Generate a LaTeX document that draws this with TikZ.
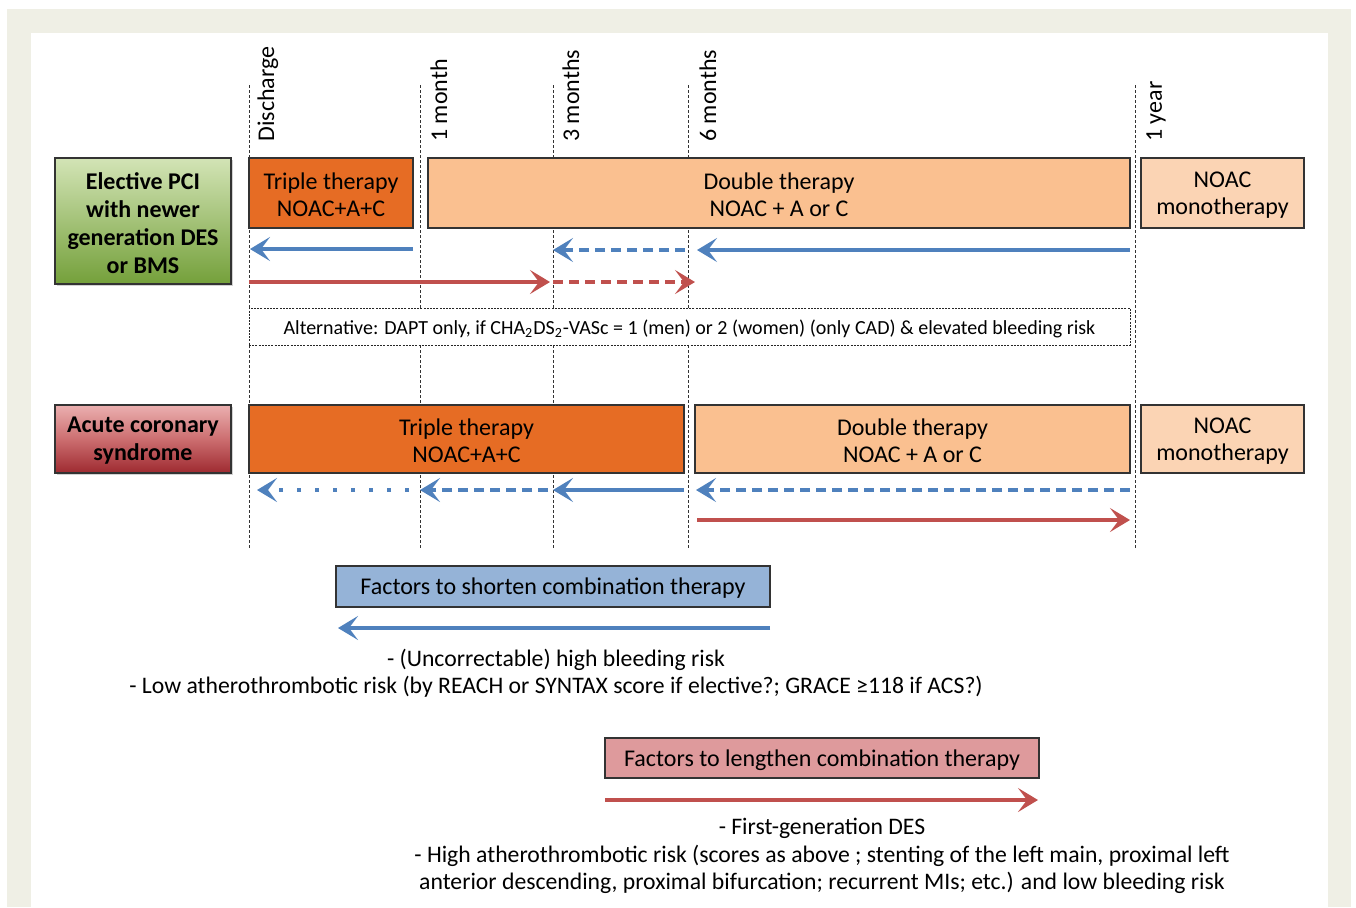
\documentclass[tikz,border=0pt]{standalone}
\usepackage{fontspec}
\setmainfont{Carlito}
\usetikzlibrary{arrows.meta,fit,shadows}
\definecolor{framec}{HTML}{EFEFE5}
\definecolor{tric}{HTML}{E66C24}
\definecolor{dblc}{HTML}{FAC090}
\definecolor{monoc}{HTML}{FBD4B4}
\definecolor{bluec}{HTML}{4F81BD}
\definecolor{redc}{HTML}{C0504D}
\definecolor{bbox}{HTML}{95B3D7}
\definecolor{rbox}{HTML}{DE9A9C}
\definecolor{edgec}{HTML}{333333}
\definecolor{gtop}{HTML}{D3E4B6}
\definecolor{gbot}{HTML}{74A03A}
\definecolor{rtop}{HTML}{EBB0B0}
\definecolor{rmid}{HTML}{CC6E70}
\definecolor{rbot}{HTML}{9E2A30}
\begin{document}
\begin{tikzpicture}[x=0.5pt,y=-0.5pt,
  every node/.style={font=\fontsize{12}{13.5}\selectfont},
  vline/.style={draw=black!80,line width=0.5pt,dash pattern=on 1.5pt off 1pt},
  tlabel/.style={rotate=90,anchor=north west,inner sep=0pt},
  boxbase/.style={draw=edgec,line width=0.6pt,inner sep=0pt},
  btext/.style={align=center,inner sep=0pt},
  ltext/.style={align=center,inner sep=0pt,font=\bfseries\fontsize{12}{14}\selectfont},
  tribox/.style={boxbase,fill=tric},
  dblbox/.style={boxbase,fill=dblc},
  monobox/.style={boxbase,fill=monoc},
  greenbox/.style={boxbase,top color=gtop,bottom color=gbot,
     drop shadow={shadow xshift=0.8pt,shadow yshift=-1.2pt,opacity=0.35}},
  redlbox/.style={boxbase,top color=rtop,bottom color=rbot,middle color=rmid,
     drop shadow={shadow xshift=0.8pt,shadow yshift=-1.2pt,opacity=0.35}},
  tip/.style={-{Stealth[length=10pt,width=12pt,inset=4.5pt]}},
  barrow/.style={tip,draw=bluec,line width=2pt},
  rarrow/.style={tip,draw=redc,line width=2pt},
  dsh/.style={dash pattern=on 5pt off 3pt},
  dts/.style={dash pattern=on 2pt off 7pt},
  txt/.style={inner sep=0pt,font=\fontsize{11.85}{14}\selectfont}
]
\useasboundingbox (0,0) rectangle (1356,907);
\fill[white] (0,0) rectangle (1356,907);
\fill[framec] (7,9) rectangle (1351,907);
\fill[white] (31,33) rectangle (1328,907);

% time lines
\foreach \n/\x in {dis/249,mA/420,mB/553,mC/688,yA/1135}{
  \coordinate (\n top) at (\x,85);
  \coordinate (\n bot) at (\x,548);
  \draw[vline] (\n top) -- (\n bot);
}
\node[tlabel] (ldis) at (257,142) {Discharge};
\node[tlabel] (lmA) at (430,142) {1 month};
\node[tlabel] (lmB) at (562,142) {3 months};
\node[tlabel] (lmC) at (699,142) {6 months};
\node[tlabel] (lyA) at (1146,142) {1 year};

% row 1
\node[greenbox,fit={(55,158)(231,284)}] (elect) {};
\node[ltext] (electt) at ([yshift=-1pt]elect.center) {Elective PCI\\with newer\\generation DES\\or BMS};
\node[tribox,fit={(249,158)(413,228)}] (tt1) {};
\node[btext] (tt1t) at ([yshift=-1pt]tt1.center) {Triple therapy\\NOAC+A+C};
\node[dblbox,fit={(428,158)(1130,228)}] (dt1) {};
\node[btext] (dt1t) at ([yshift=-1pt]dt1.center) {Double therapy\\NOAC + A or C};
\node[monobox,fit={(1141,158)(1304,228)}] (mo1) {};
\node[btext] (mo1t) at ([yshift=-1pt]mo1.center) {NOAC\\monotherapy};

\coordinate (a1s) at (413,249); \coordinate (a1e) at (250,249);
\coordinate (a2s) at (685,250); \coordinate (a2e) at (553,250);
\coordinate (a3s) at (1130,250); \coordinate (a3e) at (697,250);
\coordinate (r1s) at (249,282); \coordinate (r1e) at (550,282);
\coordinate (r2s) at (553,282); \coordinate (r2e) at (695,282);
\draw[barrow] (a1s) -- (a1e);
\draw[barrow,dsh] (a2s) -- (a2e);
\draw[barrow] (a3s) -- (a3e);
\draw[rarrow] (r1s) -- (r1e);
\draw[rarrow,dsh] (r2s) -- (r2e);

% alternative
\node[draw=black!85,line width=0.5pt,dash pattern=on 1pt off 0.6pt,fill=white,inner sep=0pt,
  fit={(249,308)(1130,345)}] (alt) {};
\node[inner sep=0pt,font=\fontsize{10}{11}\selectfont] (altt) at ([yshift=-1pt]alt.center)
  {Alternative: DAPT only, if CHA\textsubscript{2}DS\textsubscript{2}-VASc = 1 (men) or 2 (women) (only CAD) \& elevated bleeding risk};

% row 2
\node[redlbox,fit={(55,405)(231,473)}] (acs) {};
\node[ltext] (acst) at ([yshift=-1pt]acs.center) {Acute coronary\\syndrome};
\node[tribox,fit={(249,405)(684,473)}] (tt2) {};
\node[btext] (tt2t) at ([yshift=-1pt]tt2.center) {Triple therapy\\NOAC+A+C};
\node[dblbox,fit={(695,405)(1130,473)}] (dt2) {};
\node[btext] (dt2t) at ([yshift=-1pt]dt2.center) {Double therapy\\NOAC + A or C};
\node[monobox,fit={(1141,405)(1304,473)}] (mo2) {};
\node[btext] (mo2t) at ([yshift=-1pt]mo2.center) {NOAC\\monotherapy};

\coordinate (b1s) at (409,490); \coordinate (b1e) at (257,490);
\coordinate (b2s) at (548,490); \coordinate (b2e) at (420,490);
\coordinate (b3s) at (684,490); \coordinate (b3e) at (553,490);
\coordinate (b4s) at (1130,490); \coordinate (b4e) at (696,490);
\coordinate (r3s) at (697,520); \coordinate (r3e) at (1130,520);
\draw[barrow,dts] (b1s) -- (b1e);
\draw[barrow,dsh] (b2s) -- (b2e);
\draw[barrow] (b3s) -- (b3e);
\draw[barrow,dsh] (b4s) -- (b4e);
\draw[rarrow] (r3s) -- (r3e);

% factors shorten
\node[boxbase,fill=bbox,fit={(336,566)(770,607)}] (fs) {};
\node[btext] (fst) at ([yshift=-1pt]fs.center) {Factors to shorten combination therapy};
\coordinate (fss) at (770,628); \coordinate (fse) at (338,628);
\draw[barrow] (fss) -- (fse);
\node[txt] (s1) at (556,660) {- (Uncorrectable) high bleeding risk};
\node[txt] (s2) at (556,687) {- Low atherothrombotic risk (by REACH or SYNTAX score if elective?; GRACE ≥118 if ACS?)};

% factors lengthen
\node[boxbase,fill=rbox,fit={(605,738)(1039,778)}] (fl) {};
\node[btext] (flt) at ([yshift=-1pt]fl.center) {Factors to lengthen combination therapy};
\coordinate (fls) at (605,800); \coordinate (fle) at (1038,800);
\draw[rarrow] (fls) -- (fle);
\node[txt] (l1) at (822,828) {- First-generation DES};
\node[txt] (l2) at (822,856) {- High atherothrombotic risk (scores as above ; stenting of the left main, proximal left};
\node[txt] (l3) at (822,883) {anterior descending, proximal bifurcation; recurrent MIs; etc.) and low bleeding risk};
\end{tikzpicture}
\end{document}
